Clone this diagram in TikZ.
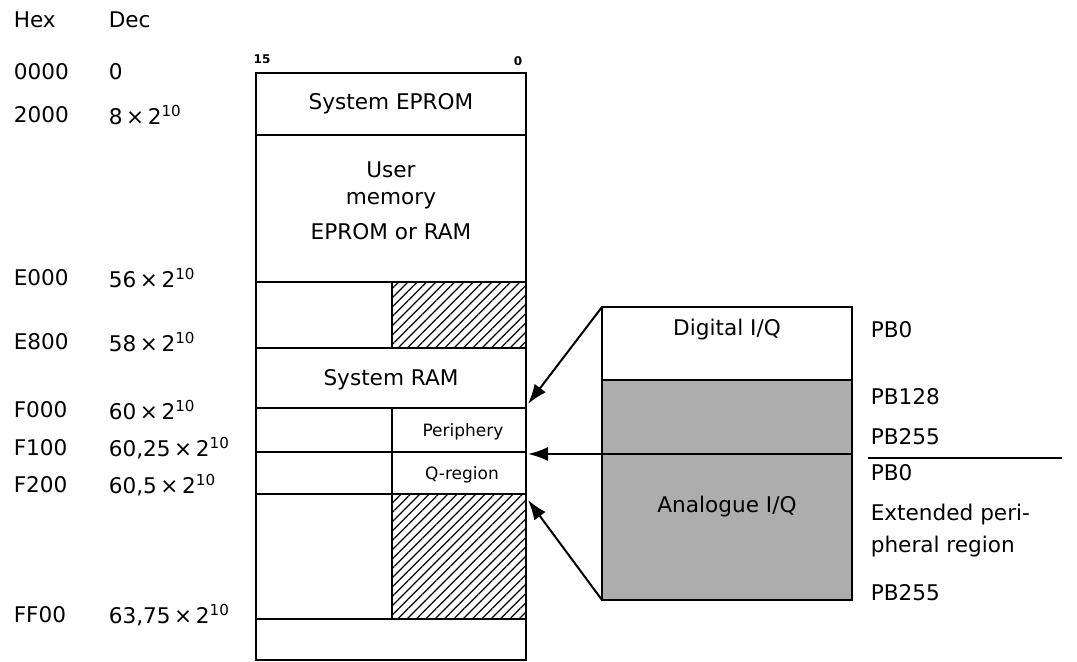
\documentclass[tikz,border=0pt]{standalone}
\usepackage{fontspec}
\setmainfont{DejaVu Sans}
\usetikzlibrary{patterns.meta,arrows.meta}
\begin{document}
\begin{tikzpicture}[x=0.5pt, y=-0.5pt, line width=0.8,
  lbl/.style={anchor=west, inner sep=0, font=\fontsize{10.8}{12}\selectfont},
  txt/.style={inner sep=0, font=\fontsize{10.8}{12}\selectfont},
  sml/.style={inner sep=0, font=\fontsize{8.5}{10}\selectfont},
  bit/.style={inner sep=0, font=\fontsize{6}{7}\selectfont\bfseries},
  sep/.style={line width=1.3},
  hatch/.style={pattern={Lines[angle=45,distance=3.3pt,line width=0.6pt]}},
  ptr/.style={line width=1, -{Latex[length=10pt,width=7pt]}}]
\useasboundingbox (0,0) rectangle (1077,662);
% address column
\node[lbl] (hex) at (13,20) {Hex};
\node[lbl] (dec) at (108,20) {Dec};
\node[lbl] (hex0) at (13,72) {0000};
\node[lbl] (dec0) at (108,72) {0};
\foreach \y/\h/\m [count=\i] in {115/2000/8, 278/E000/56, 342/E800/58, 410/F000/60,
  448/F100/{60,25}, 485/F200/{60,5}, 615/FF00/{63,75}} {
\node[lbl] (hex\i) at (13,\y) {\h};
\node[lbl] (dec\i) at (108,\y) {\m\,×\,2\textsuperscript{10}};
}
% memory map
\node[bit] (msb) at (262,59) {15};
\node[bit] (lsb) at (518,61) {0};
\draw (256,73) rectangle (526,660);
\foreach \y in {135,282,348,408,452,494,619} {\draw[sep] (256,\y) -- (526,\y);}
\draw[hatch] (392,282) rectangle (526,348);
\draw[hatch] (392,494) rectangle (526,619);
\draw (392,408) -- (392,494);
\node[txt] (eprom) at (391,104) {System EPROM};
\node[txt] (user) at (391,170) {User};
\node[txt] (umem) at (391,201) {memory};
\node[txt] (uram) at (391,232) {EPROM or RAM};
\node[txt] (sram) at (391,380) {System RAM};
\node[sml] (peri) at (463,432) {Periphery};
\node[sml] (qreg) at (462,475) {Q-region};
% I/O block
\fill[black!32] (602,380) rectangle (852,600);
\draw (602,307) rectangle (852,600);
\draw[sep] (602,380) -- (852,380);
\node[txt] (dig) at (727,330) {Digital I/Q};
\node[txt] (ana) at (727,507) {Analogue I/Q};
\coordinate (iotl) at (602,307);
\coordinate (iobl) at (602,600);
\coordinate (iomid) at (852,454);
\coordinate (ramtip) at (528,404);
\coordinate (pertip) at (528,454);
\coordinate (qtip) at (528,500);
\draw[ptr] (iotl) -- (ramtip);
\draw[ptr] (iomid) -- (pertip);
\draw[ptr] (iobl) -- (qtip);
% PB numbers
\node[lbl] (pb0) at (870,330) {PB0};
\node[lbl] (pb128) at (870,397) {PB128};
\node[lbl] (pb255) at (870,437) {PB255};
\coordinate (cutl) at (868,458);
\coordinate (cutr) at (1062,458);
\draw[sep] (cutl) -- (cutr);
\node[lbl] (xpb0) at (870,473) {PB0};
\node[lbl] (ext) at (870,515) {Extended peri-};
\node[lbl] (extb) at (870,547) {pheral region};
\node[lbl] (xpb255) at (870,593) {PB255};
\end{tikzpicture}
\end{document}
